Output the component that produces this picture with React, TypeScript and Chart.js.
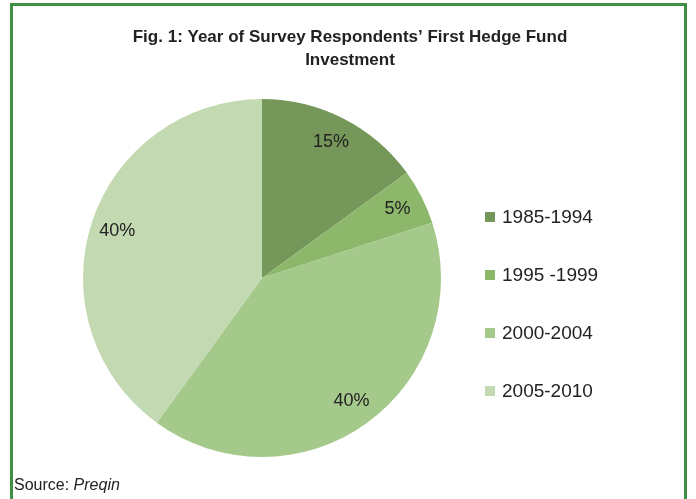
import React, { useEffect, useRef } from "react";
import { Chart, registerables } from "chart.js";

Chart.register(...registerables);

const categories = ["1985-1994", "1995 -1999", "2000-2004", "2005-2010"];
const shares = [15, 5, 40, 40];
const sliceColors = ["#76975a", "#8db86c", "#a4c98b", "#c3d9b2"];
const titleLines = ["Fig. 1: Year of Survey Respondents’ First Hedge Fund", "Investment"];
const sourceLabel = "Source: ";
const sourceName = "Preqin";

const FONT = "'Liberation Sans', Arial, sans-serif";

const overlayPlugin = {
  id: "overlay",
  afterDatasetsDraw(chart: any) {
    const ctx = chart.ctx;
    const meta = chart.getDatasetMeta(0);
    ctx.save();
    ctx.fillStyle = "#222";
    ctx.font = `18px ${FONT}`;
    ctx.textAlign = "center";
    ctx.textBaseline = "middle";
    meta.data.forEach((arc: any, i: number) => {
      const p = arc.getProps(["x", "y", "startAngle", "endAngle", "outerRadius"], true);
      const mid = (p.startAngle + p.endAngle) / 2;
      const r = p.outerRadius * 0.85;
      ctx.fillText(`${shares[i]}%`, p.x + Math.cos(mid) * r, p.y + Math.sin(mid) * r);
    });
    // legend
    const lx = 485;
    const ly0 = 217;
    const step = 58;
    ctx.textAlign = "left";
    ctx.font = `19px ${FONT}`;
    categories.forEach((c, i) => {
      const y = ly0 + i * step;
      ctx.fillStyle = sliceColors[i];
      ctx.fillRect(lx, y - 5, 10, 10);
      ctx.fillStyle = "#222";
      ctx.fillText(c, lx + 17, y + 1);
    });
    // title
    ctx.textAlign = "center";
    ctx.font = `bold 17px ${FONT}`;
    ctx.fillStyle = "#222";
    titleLines.forEach((t, i) => ctx.fillText(t, 350, 37 + i * 23));
    // source
    ctx.textAlign = "left";
    ctx.font = `16px ${FONT}`;
    ctx.fillText(sourceLabel, 14, 486);
    const w = ctx.measureText(sourceLabel).width;
    ctx.font = `italic 16px ${FONT}`;
    ctx.fillText(sourceName, 14 + w, 486);
    ctx.restore();
  },
};

export default function App() {
  const ref = useRef<HTMLCanvasElement>(null);
  useEffect(() => {
    document.body.style.margin = "0";
    const chart = new Chart(ref.current!, {
      type: "pie",
      data: {
        labels: categories,
        datasets: [
          {
            data: shares,
            backgroundColor: sliceColors,
            borderWidth: 0,
          },
        ],
      },
      options: {
        animation: false,
        responsive: false,
        maintainAspectRatio: false,
        layout: { padding: { left: 83, right: 255, top: 99, bottom: 42 } },
        plugins: {
          legend: { display: false },
          tooltip: { enabled: false },
          title: { display: false },
        },
      },
      plugins: [overlayPlugin],
    });
    return () => chart.destroy();
  }, []);
  return (
    <div style={{ position: "fixed", left: 0, top: 0, width: 696, height: 499, background: "#fff", overflow: "hidden" }}>
      <div
        style={{
          position: "absolute",
          left: 10,
          top: 3,
          width: 677,
          height: 520,
          border: "3px solid #3f8f45",
          boxSizing: "border-box",
        }}
      />
      <canvas ref={ref} width={696} height={499} style={{ position: "absolute", left: 0, top: 0 }} />
    </div>
  );
}
